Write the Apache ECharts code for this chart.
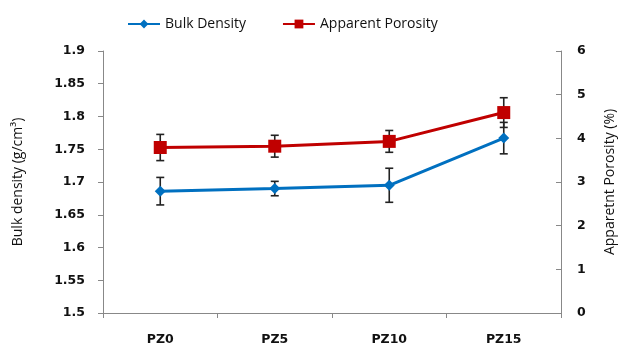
<!DOCTYPE html>
<html>
<head>
<meta charset="utf-8">
<script src="https://cdn.jsdelivr.net/npm/echarts@6/dist/echarts.min.js"></script>
<style>html,body{margin:0;padding:0;background:#fff}#c{width:632px;height:346px}</style>
</head>
<body>
<div id="c"></div>
<script>
var categories = ['PZ0', 'PZ5', 'PZ10', 'PZ15'];
var bulkDensity = [1.686, 1.690, 1.695, 1.767];
var bulkErr = [0.021, 0.011, 0.026, 0.024];
var porosity = [3.79, 3.82, 3.93, 4.59];
var porosityErr = [0.30, 0.25, 0.25, 0.34];
var leftTicks = [1.5, 1.9, 0.05];
var rightTicks = [0, 6, 1];

function errData(vals, errs) {
  return vals.map(function (v, i) { return [i, v - errs[i], v + errs[i]]; });
}
function errRender(params, api) {
  var x = api.value(0);
  var lo = api.coord([x, api.value(1)]);
  var hi = api.coord([x, api.value(2)]);
  var w = 4;
  var st = { stroke: '#222', lineWidth: 1.6 };
  return {
    type: 'group',
    children: [
      { type: 'line', shape: { x1: lo[0], y1: lo[1], x2: hi[0], y2: hi[1] }, style: st },
      { type: 'line', shape: { x1: lo[0] - w, y1: lo[1], x2: lo[0] + w, y2: lo[1] }, style: st },
      { type: 'line', shape: { x1: hi[0] - w, y1: hi[1], x2: hi[0] + w, y2: hi[1] }, style: st }
    ]
  };
}

var chart = echarts.init(document.getElementById('c'));
var tickFont = { fontFamily: 'DejaVu Sans', fontWeight: 'bold', fontSize: 12.5, color: '#111' };
chart.setOption({
  animation: false,
  legend: {
    left: 122, top: 12, itemWidth: 32, itemHeight: 11, itemGap: 36,
    textStyle: { fontFamily: 'Open Sans', fontSize: 14, color: '#111' },
    data: ['Bulk Density', 'Apparent Porosity']
  },
  grid: { left: 103, right: 71, top: 51, bottom: 33 },
  xAxis: {
    type: 'category', data: categories, boundaryGap: true,
    axisLine: { lineStyle: { color: '#888', width: 1 } },
    axisTick: { show: true, length: 5, lineStyle: { color: '#888' } },
    axisLabel: Object.assign({ margin: 20 }, tickFont)
  },
  yAxis: [{
    type: 'value', min: leftTicks[0], max: leftTicks[1], interval: leftTicks[2],
    name: 'Bulk density (g/cm\u00b3)', nameLocation: 'middle', nameGap: 78, nameRotate: 90,
    nameTextStyle: { fontFamily: 'Open Sans', fontSize: 14, color: '#111' },
    axisLine: { show: true, lineStyle: { color: '#888' } },
    axisTick: { show: true, length: 5, lineStyle: { color: '#888' } },
    splitLine: { show: false },
    axisLabel: Object.assign({ margin: 18, formatter: function (v) { return String(parseFloat(v.toFixed(2))); } }, tickFont)
  }, {
    type: 'value', min: rightTicks[0], max: rightTicks[1], interval: rightTicks[2], position: 'right',
    name: 'Apparetnt Porosity (%)', nameLocation: 'middle', nameGap: 42, nameRotate: 90,
    nameTextStyle: { fontFamily: 'Open Sans', fontSize: 14, color: '#111' },
    axisLine: { show: true, lineStyle: { color: '#888' } },
    axisTick: { show: true, inside: true, length: 5, lineStyle: { color: '#888' } },
    splitLine: { show: false },
    axisLabel: Object.assign({ margin: 16 }, tickFont)
  }],
  series: [{
    name: 'Bulk Density', type: 'line', yAxisIndex: 0, data: bulkDensity,
    symbol: 'diamond', symbolSize: 11,
    lineStyle: { color: '#0070C0', width: 3 }, itemStyle: { color: '#0070C0' }, z: 3
  }, {
    name: 'Apparent Porosity', type: 'line', yAxisIndex: 1, data: porosity,
    symbol: 'rect', symbolSize: 13,
    lineStyle: { color: '#C00000', width: 3 }, itemStyle: { color: '#C00000' }, z: 3
  }, {
    type: 'custom', yAxisIndex: 0, renderItem: errRender, data: errData(bulkDensity, bulkErr), z: 2, silent: true
  }, {
    type: 'custom', yAxisIndex: 1, renderItem: errRender, data: errData(porosity, porosityErr), z: 2, silent: true
  }]
});
</script>
</body>
</html>
